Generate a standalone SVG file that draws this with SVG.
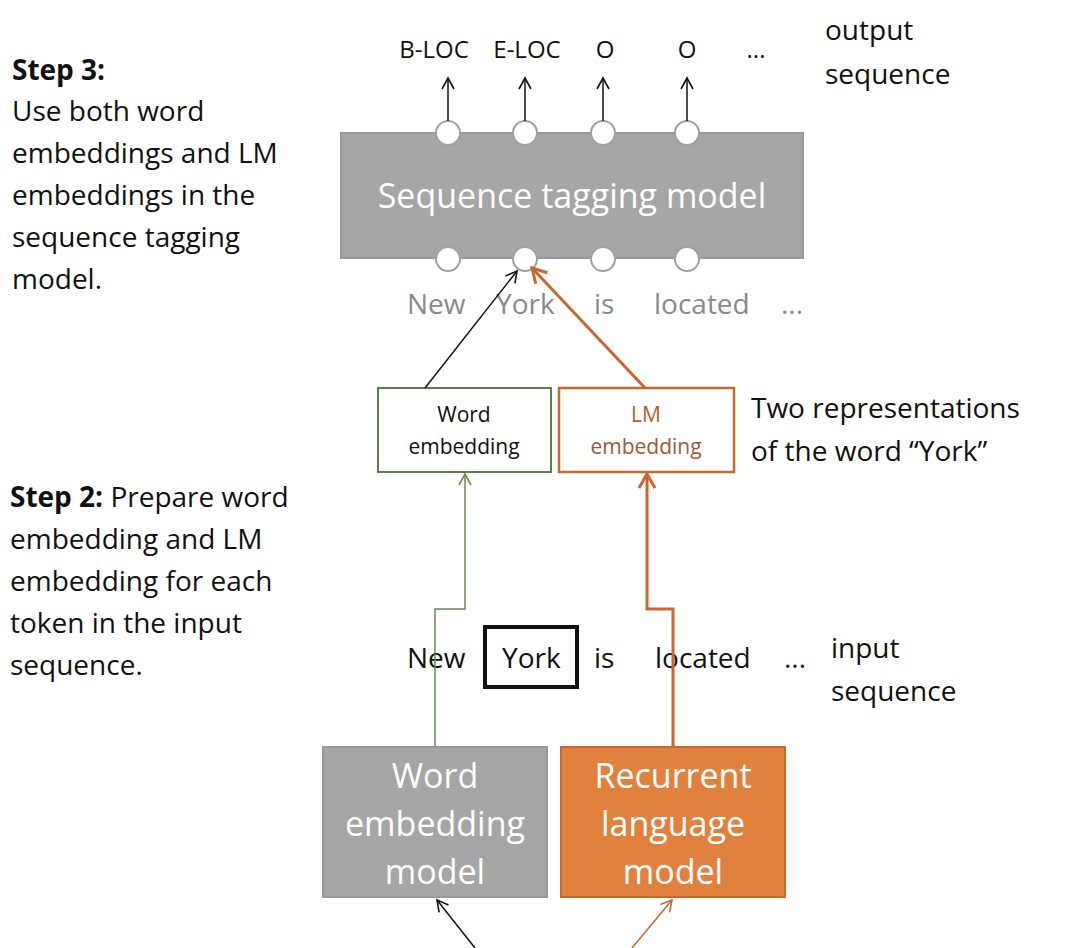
<svg xmlns="http://www.w3.org/2000/svg" width="1080" height="948" viewBox="0 0 1080 948">
<style>
text{font-family:"Open Sans","Liberation Sans",sans-serif}
.t{font-size:28px;fill:#111}
.g{font-size:28px;fill:#8a8a8a}
.c{fill:#fff;stroke:#a0a0a0;stroke-width:2}
.w{fill:#fff;text-anchor:middle}
</style>
<defs>
<marker id="ab" markerWidth="14" markerHeight="14" refX="12" refY="7" orient="auto" markerUnits="userSpaceOnUse"><path d="M1,1 L12,7 L1,13" fill="none" stroke="#111" stroke-width="1.6"/></marker>
<marker id="ag" markerWidth="14" markerHeight="14" refX="12" refY="7" orient="auto" markerUnits="userSpaceOnUse"><path d="M1,1 L12,7 L1,13" fill="none" stroke="#6b8a55" stroke-width="1.6"/></marker>
<marker id="ao" markerWidth="18" markerHeight="18" refX="15" refY="9" orient="auto" markerUnits="userSpaceOnUse"><path d="M1,1 L15,9 L1,17" fill="none" stroke="#c8682c" stroke-width="3"/></marker>
<marker id="ao2" markerWidth="14" markerHeight="14" refX="12" refY="7" orient="auto" markerUnits="userSpaceOnUse"><path d="M1,1 L12,7 L1,13" fill="none" stroke="#c8682c" stroke-width="1.6"/></marker>
</defs>
<rect width="1080" height="948" fill="#fff"/>
<g id="step3">
<text class="t" x="12" y="80" font-weight="bold">Step 3:</text>
<text class="t" x="12" y="121">Use both word</text>
<text class="t" x="12" y="163">embeddings and LM</text>
<text class="t" x="12" y="205">embeddings in the</text>
<text class="t" x="12" y="247">sequence tagging</text>
<text class="t" x="12" y="289">model.</text>
</g>
<g id="step2">
<text class="t" x="10" y="507"><tspan font-weight="bold">Step 2:</tspan> Prepare word</text>
<text class="t" x="10" y="549">embedding and LM</text>
<text class="t" x="10" y="591">embedding for each</text>
<text class="t" x="10" y="633">token in the input</text>
<text class="t" x="10" y="675">sequence.</text>
</g>
<g id="outlabels" font-size="24" fill="#111">
<text x="434" y="58" text-anchor="middle" style="font-size:24px">B-LOC</text>
<text x="527" y="58" text-anchor="middle" style="font-size:24px">E-LOC</text>
<text x="605" y="58" text-anchor="middle" style="font-size:24px">O</text>
<text x="687" y="58" text-anchor="middle" style="font-size:24px">O</text>
<text x="756" y="58" text-anchor="middle" style="font-size:24px">...</text>
<text class="t" x="825" y="40">output</text>
<text class="t" x="825" y="84">sequence</text>
</g>
<g id="tagger">
<rect x="341" y="133" width="462" height="125" fill="#a6a6a6" stroke="#999" stroke-width="2"/>
<text class="w" x="572" y="208" style="font-size:34px">Sequence tagging model</text>
<circle class="c" cx="448" cy="133" r="12"/><circle class="c" cx="525" cy="133" r="12"/><circle class="c" cx="603" cy="133" r="12"/><circle class="c" cx="687" cy="133" r="12"/>
<circle class="c" cx="448" cy="259" r="12"/><circle class="c" cx="525" cy="259" r="12"/><circle class="c" cx="603" cy="259" r="12"/><circle class="c" cx="687" cy="259" r="12"/>
</g>
<g id="graywords">
<text class="g" x="407" y="314">New</text>
<text class="g" x="496" y="314">York</text>
<text class="g" x="594" y="314">is</text>
<text class="g" x="654" y="314">located</text>
<text class="g" x="781" y="314">...</text>
</g>
<g id="wemb">
<rect x="378" y="388" width="173" height="84" fill="#fff" stroke="#5e7f4a" stroke-width="2"/>
<text x="464" y="422" text-anchor="middle" style="font-size:21px" fill="#111">Word</text>
<text x="464" y="454" text-anchor="middle" style="font-size:21px" fill="#111">embedding</text>
</g>
<g id="lmemb">
<rect x="559" y="388" width="175" height="84" fill="#fff" stroke="#c8682c" stroke-width="2.5"/>
<text x="646" y="422" text-anchor="middle" style="font-size:21px" fill="#b0622e">LM</text>
<text x="646" y="454" text-anchor="middle" style="font-size:21px" fill="#9a5a34">embedding</text>
</g>
<g id="tworep">
<text class="t" x="751" y="418">Two representations</text>
<text class="t" x="751" y="461">of the word “York”</text>
</g>
<g id="input">
<text class="t" x="407" y="668">New</text>
<rect x="485" y="627" width="92" height="60" fill="none" stroke="#111" stroke-width="4"/>
<text class="t" x="502" y="668">York</text>
<text class="t" x="594" y="668">is</text>
<text class="t" x="655" y="668">located</text>
<text class="t" x="784" y="668">...</text>
<text class="t" x="831" y="658">input</text>
<text class="t" x="831" y="701">sequence</text>
</g>
<g id="wmodel">
<rect x="323" y="747" width="224" height="150" fill="#a6a6a6" stroke="#999" stroke-width="2"/>
<text class="w" x="435" y="788" style="font-size:34px">Word</text>
<text class="w" x="435" y="836" style="font-size:34px">embedding</text>
<text class="w" x="435" y="884" style="font-size:34px">model</text>
</g>
<g id="rlm">
<rect x="561" y="747" width="224" height="150" fill="#e0823e" stroke="#c8682c" stroke-width="2"/>
<text class="w" x="673" y="788" style="font-size:34px">Recurrent</text>
<text class="w" x="673" y="836" style="font-size:34px">language</text>
<text class="w" x="673" y="884" style="font-size:34px">model</text>
</g>
<g id="connectors" fill="none">
<line x1="448" y1="121" x2="448" y2="78" stroke="#111" stroke-width="1.5" marker-end="url(#ab)"/>
<line x1="525" y1="121" x2="525" y2="78" stroke="#111" stroke-width="1.5" marker-end="url(#ab)"/>
<line x1="603" y1="121" x2="603" y2="78" stroke="#111" stroke-width="1.5" marker-end="url(#ab)"/>
<line x1="687" y1="121" x2="687" y2="78" stroke="#111" stroke-width="1.5" marker-end="url(#ab)"/>
<line x1="425" y1="388" x2="517" y2="271" stroke="#111" stroke-width="1.5" marker-end="url(#ab)"/>
<line x1="645" y1="388" x2="532" y2="268" stroke="#c8682c" stroke-width="3" marker-end="url(#ao)"/>
<polyline points="435,747 435,609 465,609 465,474" stroke="#6b8a55" stroke-width="1.5" marker-end="url(#ag)"/>
<polyline points="673,747 673,609 647,609 647,474" stroke="#c8682c" stroke-width="3" marker-end="url(#ao)"/>
<line x1="475" y1="948" x2="437" y2="900" stroke="#111" stroke-width="1.5" marker-end="url(#ab)"/>
<line x1="632" y1="948" x2="672" y2="900" stroke="#c8682c" stroke-width="1.5" marker-end="url(#ao2)"/>
</g>
</svg>
